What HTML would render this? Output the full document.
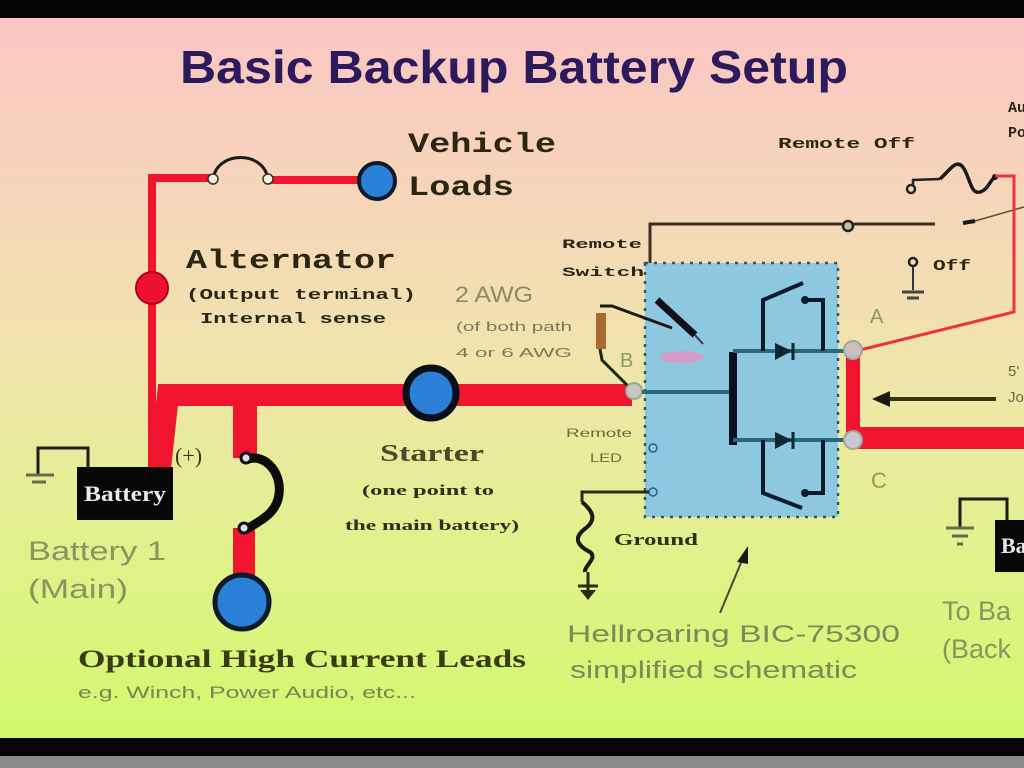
<!DOCTYPE html>
<html><head><meta charset="utf-8"><style>
html,body{margin:0;padding:0;width:1024px;height:768px;overflow:hidden;background:#000}
svg{display:block}
</style></head><body>
<svg width="1024" height="768" viewBox="0 0 1024 768" xmlns="http://www.w3.org/2000/svg">
<defs>
<linearGradient id="bg" x1="0" y1="0" x2="0" y2="1">
<stop offset="0" stop-color="#fbc6c4"/>
<stop offset="0.25" stop-color="#f6d6ba"/>
<stop offset="0.5" stop-color="#efe6aa"/>
<stop offset="0.72" stop-color="#e2f08e"/>
<stop offset="1" stop-color="#d2f96c"/>
</linearGradient>
</defs>
<rect x="0" y="18" width="1024" height="722" fill="url(#bg)"/>
<rect x="0" y="0" width="1024" height="18" fill="#050303"/>
<rect x="0" y="738" width="1024" height="18" fill="#060606"/>
<rect x="0" y="756" width="1024" height="12" fill="#8a8a8a"/>

<!-- Title -->
<text x="180" y="83" font-family="Liberation Sans, sans-serif" font-weight="bold" font-size="46" fill="#2c1a5c" textLength="668" lengthAdjust="spacingAndGlyphs">Basic Backup Battery Setup</text>

<!-- Thin red left wire -->
<polyline points="152,470 152,178 213,178" fill="none" stroke="#f0142e" stroke-width="8"/>
<line x1="268" y1="180" x2="362" y2="180" stroke="#f0142e" stroke-width="8"/>
<!-- fuse top-left -->
<path d="M213,180 C216,150 265,150 268,180" fill="none" stroke="#1a1a1a" stroke-width="3"/>
<circle cx="213" cy="179" r="5" fill="#f4f0e0" stroke="#333" stroke-width="1.5"/>
<circle cx="268" cy="179" r="5" fill="#f4f0e0" stroke="#333" stroke-width="1.5"/>
<!-- vehicle loads circle -->
<circle cx="377" cy="181" r="18" fill="#2a7fd6" stroke="#0e1a2a" stroke-width="4"/>
<!-- alternator red circle -->
<circle cx="152" cy="288" r="16" fill="#ee1030" stroke="#b00018" stroke-width="2"/>

<!-- Thick red main wire -->
<polyline points="160,468 168,395 632,395" fill="none" stroke="#f0142e" stroke-width="22" stroke-linejoin="miter"/>
<!-- branch down -->
<line x1="245" y1="395" x2="245" y2="458" stroke="#f0142e" stroke-width="24"/>
<line x1="244" y1="528" x2="244" y2="585" stroke="#f0142e" stroke-width="22"/>
<path d="M246,460 C262,452 282,470 279,494 C277,514 258,522 245,530" fill="none" stroke="#0c0c0c" stroke-width="9"/>
<circle cx="246" cy="458" r="5" fill="#dde" stroke="#111" stroke-width="3"/>
<circle cx="244" cy="528" r="5" fill="#dde" stroke="#111" stroke-width="3"/>
<circle cx="242" cy="602" r="27" fill="#2a7fd6" stroke="#0e1a2a" stroke-width="5"/>
<!-- starter -->
<circle cx="431" cy="393" r="25" fill="#2a7fd6" stroke="#0a0e18" stroke-width="7"/>

<!-- battery 1 -->
<polyline points="88,468 88,448 38,448 38,474" fill="none" stroke="#1e1e10" stroke-width="3"/>
<line x1="26" y1="475" x2="54" y2="475" stroke="#6a6a50" stroke-width="3"/>
<line x1="32" y1="482" x2="46" y2="482" stroke="#6a6a50" stroke-width="3"/>
<rect x="77" y="467" width="96" height="53" fill="#080808"/>
<text x="84" y="501" font-family="Liberation Serif, serif" font-weight="bold" font-size="22" fill="#e8e8f0" textLength="82" lengthAdjust="spacingAndGlyphs">Battery</text>
<text x="175" y="463" font-family="Liberation Serif, serif" font-size="22" fill="#3a3a20">(+)</text>
<text x="28" y="560" font-family="Liberation Sans, sans-serif" font-size="27" fill="#8a9460" textLength="138" lengthAdjust="spacingAndGlyphs">Battery 1</text>
<text x="28" y="598" font-family="Liberation Sans, sans-serif" font-size="27" fill="#8a9460" textLength="100" lengthAdjust="spacingAndGlyphs">(Main)</text>

<text x="78" y="667" font-family="Liberation Serif, serif" font-weight="bold" font-size="25" fill="#3a3a14" textLength="448" lengthAdjust="spacingAndGlyphs">Optional High Current Leads</text>
<text x="78" y="698" font-family="Liberation Sans, sans-serif" font-size="17" fill="#7a8455" textLength="338" lengthAdjust="spacingAndGlyphs">e.g. Winch, Power Audio, etc...</text>

<text x="380" y="461" font-family="Liberation Serif, serif" font-weight="bold" font-size="24" fill="#4a4a2a" textLength="104" lengthAdjust="spacingAndGlyphs">Starter</text>
<text x="362" y="495" font-family="Liberation Serif, serif" font-weight="bold" font-size="15" fill="#2e2e18" textLength="132" lengthAdjust="spacingAndGlyphs">(one point to</text>
<text x="345" y="530" font-family="Liberation Serif, serif" font-weight="bold" font-size="15" fill="#2e2e18" textLength="174" lengthAdjust="spacingAndGlyphs">the main battery)</text>

<text x="408" y="152" font-family="Liberation Mono, monospace" font-weight="bold" font-size="28" fill="#2b2614" textLength="148" lengthAdjust="spacingAndGlyphs">Vehicle</text>
<text x="408" y="195" font-family="Liberation Mono, monospace" font-weight="bold" font-size="28" fill="#2b2614" textLength="106" lengthAdjust="spacingAndGlyphs">Loads</text>
<text x="186" y="268" font-family="Liberation Mono, monospace" font-weight="bold" font-size="27" fill="#2b2614" textLength="210" lengthAdjust="spacingAndGlyphs">Alternator</text>
<text x="186" y="299" font-family="Liberation Mono, monospace" font-weight="bold" font-size="15" fill="#2b2614" textLength="230" lengthAdjust="spacingAndGlyphs">(Output terminal)</text>
<text x="200" y="323" font-family="Liberation Mono, monospace" font-weight="bold" font-size="15" fill="#2b2614" textLength="186" lengthAdjust="spacingAndGlyphs">Internal sense</text>

<text x="455" y="302" font-family="Liberation Sans, sans-serif" font-size="22" fill="#8a8a6a" textLength="78" lengthAdjust="spacingAndGlyphs">2 AWG</text>
<text x="456" y="331" font-family="Liberation Sans, sans-serif" font-size="13" fill="#7a7a5a" textLength="116" lengthAdjust="spacingAndGlyphs">(of both path</text>
<text x="456" y="357" font-family="Liberation Sans, sans-serif" font-size="13" fill="#7a7a5a" textLength="116" lengthAdjust="spacingAndGlyphs">4 or 6 AWG</text>

<text x="562" y="248" font-family="Liberation Mono, monospace" font-weight="bold" font-size="13" fill="#2b2614" textLength="80" lengthAdjust="spacingAndGlyphs">Remote</text>
<text x="562" y="276" font-family="Liberation Mono, monospace" font-weight="bold" font-size="13" fill="#2b2614" textLength="82" lengthAdjust="spacingAndGlyphs">Switch</text>
<text x="778" y="148" font-family="Liberation Mono, monospace" font-weight="bold" font-size="15" fill="#2b2614" textLength="137" lengthAdjust="spacingAndGlyphs">Remote Off</text>
<text x="1008" y="112" font-family="Liberation Mono, monospace" font-weight="bold" font-size="15" fill="#2b2614">Au</text>
<text x="1008" y="137" font-family="Liberation Mono, monospace" font-weight="bold" font-size="15" fill="#2b2614">Po</text>

<!-- remote switch wire -->
<polyline points="650,295 650,224 935,224" fill="none" stroke="#3a3020" stroke-width="3"/>
<circle cx="848" cy="226" r="5" fill="#c8c0a0" stroke="#222" stroke-width="2.5"/>
<line x1="963" y1="223" x2="975" y2="221" stroke="#1a1a1a" stroke-width="4"/>
<line x1="975" y1="221" x2="1024" y2="207" stroke="#5a5030" stroke-width="1.5"/>
<!-- fuse right -->
<circle cx="911" cy="189" r="4" fill="none" stroke="#222" stroke-width="2.5"/>
<polyline points="913,185 913,180 940,179" fill="none" stroke="#222" stroke-width="2.5"/>
<path d="M940,179 C950,170 955,160 962,166 C970,175 970,195 980,192 C988,190 990,180 995,177" fill="none" stroke="#1a1a1a" stroke-width="3.5"/>
<circle cx="995" cy="177" r="3" fill="#111"/>
<!-- Off -->
<circle cx="913" cy="262" r="4" fill="none" stroke="#222" stroke-width="2.5"/>
<line x1="913" y1="266" x2="913" y2="290" stroke="#333" stroke-width="2"/>
<line x1="902" y1="292" x2="924" y2="292" stroke="#444" stroke-width="3"/>
<line x1="907" y1="298" x2="919" y2="298" stroke="#444" stroke-width="3"/>
<text x="933" y="270" font-family="Liberation Mono, monospace" font-weight="bold" font-size="15" fill="#2b2614" textLength="38" lengthAdjust="spacingAndGlyphs">Off</text>

<!-- thin red right -->
<polyline points="995,176 1014,176 1014,312 860,350" fill="none" stroke="#ee3040" stroke-width="3"/>
<!-- thick red right -->
<line x1="853" y1="350" x2="853" y2="440" stroke="#f0142e" stroke-width="14"/>
<line x1="853" y1="438" x2="1024" y2="438" stroke="#f0142e" stroke-width="22"/>
<!-- left arrow -->
<line x1="885" y1="399" x2="996" y2="399" stroke="#3a3416" stroke-width="4"/>
<polygon points="872,399 890,391 890,407" fill="#1a1a10"/>
<text x="1008" y="376" font-family="Liberation Sans, sans-serif" font-size="15" fill="#6a6a40">5'</text>
<text x="1008" y="402" font-family="Liberation Sans, sans-serif" font-size="15" fill="#6a6a40">Jo</text>

<!-- Blue box -->
<rect x="645" y="263" width="193" height="254" fill="#8ec8e0" stroke="#2a5a60" stroke-width="2.5" stroke-dasharray="3,6"/>
<!-- resistor & LED -->
<polyline points="600,306 612,306 672,328" fill="none" stroke="#1a1a10" stroke-width="3"/>
<line x1="657" y1="300" x2="695" y2="335" stroke="#101018" stroke-width="7"/>
<line x1="695" y1="335" x2="703" y2="344" stroke="#3a3a50" stroke-width="2"/>
<rect x="596" y="313" width="10" height="36" fill="#a86a30"/>
<polyline points="600,349 602,360 628,386" fill="none" stroke="#1a2a10" stroke-width="3"/>
<ellipse cx="682" cy="357" rx="22" ry="6" fill="#e890c0" opacity="0.8"/>
<text x="620" y="367" font-family="Liberation Sans, sans-serif" font-size="20" fill="#8a9a60">B</text>
<circle cx="634" cy="391" r="8" fill="#c8c8c0" stroke="#98a898" stroke-width="2"/>
<!-- internal -->
<line x1="642" y1="392" x2="733" y2="392" stroke="#2a6a78" stroke-width="4"/>
<line x1="733" y1="352" x2="733" y2="445" stroke="#0a1020" stroke-width="8"/>
<line x1="733" y1="351" x2="846" y2="351" stroke="#2a6a78" stroke-width="4"/>
<line x1="733" y1="440" x2="846" y2="440" stroke="#2a6a78" stroke-width="4"/>
<polygon points="775,343 775,360 792,351" fill="#0a2a30"/>
<line x1="793" y1="343" x2="793" y2="360" stroke="#0a2a30" stroke-width="3"/>
<polygon points="775,432 775,449 792,440" fill="#0a2a30"/>
<line x1="793" y1="432" x2="793" y2="449" stroke="#0a2a30" stroke-width="3"/>
<polyline points="763,351 763,300 803,283" fill="none" stroke="#0c1a30" stroke-width="4"/>
<polyline points="805,300 823,300 823,351" fill="none" stroke="#0c1a30" stroke-width="4"/>
<circle cx="805" cy="300" r="4" fill="#0c1a30"/>
<polyline points="763,440 763,493 802,508" fill="none" stroke="#0c1a30" stroke-width="4"/>
<polyline points="805,493 823,493 823,440" fill="none" stroke="#0c1a30" stroke-width="4"/>
<circle cx="805" cy="493" r="4" fill="#0c1a30"/>
<!-- A / C terminals -->
<circle cx="853" cy="350" r="9" fill="#c8c0c0" stroke="#a0a8a0" stroke-width="2"/>
<circle cx="853" cy="440" r="9" fill="#c8c8d0" stroke="#a0a8a0" stroke-width="2"/>
<text x="870" y="323" font-family="Liberation Sans, sans-serif" font-size="20" fill="#8a9a60">A</text>
<text x="871" y="488" font-family="Liberation Sans, sans-serif" font-size="22" fill="#9a9a50">C</text>
<!-- LED/ground terminals -->
<circle cx="653" cy="448" r="4" fill="none" stroke="#2a5aa0" stroke-width="1.5"/>
<circle cx="653" cy="492" r="4" fill="none" stroke="#2a5aa0" stroke-width="1.5"/>
<text x="566" y="437" font-family="Liberation Sans, sans-serif" font-size="12" fill="#6a6a40" textLength="66" lengthAdjust="spacingAndGlyphs">Remote</text>
<text x="590" y="462" font-family="Liberation Sans, sans-serif" font-size="12" fill="#6a6a40" textLength="32" lengthAdjust="spacingAndGlyphs">LED</text>
<!-- ground squiggle -->
<polyline points="649,492 582,492 582,502" fill="none" stroke="#2a2a14" stroke-width="3"/>
<path d="M582,502 C594,512 596,520 586,528 C572,538 578,546 590,552 C598,558 584,566 585,572" fill="none" stroke="#1a1a10" stroke-width="4"/>
<line x1="588" y1="572" x2="588" y2="596" stroke="#2a2a14" stroke-width="3"/>
<line x1="578" y1="586" x2="598" y2="586" stroke="#2a2a14" stroke-width="3"/>
<polygon points="580,590 596,590 588,600" fill="#2a2a14"/>
<text x="614" y="545" font-family="Liberation Serif, serif" font-weight="bold" font-size="17" fill="#2e2e18" textLength="84" lengthAdjust="spacingAndGlyphs">Ground</text>
<!-- pointer -->
<line x1="720" y1="613" x2="743" y2="558" stroke="#4a4a30" stroke-width="2"/>
<polygon points="748,546 737,562 748,564" fill="#1a1a10"/>
<text x="567" y="642" font-family="Liberation Sans, sans-serif" font-size="24" fill="#7e8858" textLength="333" lengthAdjust="spacingAndGlyphs">Hellroaring BIC-75300</text>
<text x="570" y="678" font-family="Liberation Sans, sans-serif" font-size="24" fill="#7e8858" textLength="287" lengthAdjust="spacingAndGlyphs">simplified schematic</text>

<!-- right battery -->
<polyline points="1007,520 1007,499 960,499 960,527" fill="none" stroke="#1e1e10" stroke-width="3"/>
<line x1="946" y1="528" x2="974" y2="528" stroke="#6a6a50" stroke-width="3"/>
<line x1="952" y1="536" x2="968" y2="536" stroke="#6a6a50" stroke-width="3"/>
<line x1="957" y1="544" x2="963" y2="544" stroke="#6a6a50" stroke-width="3"/>
<rect x="995" y="520" width="29" height="52" fill="#080808"/>
<text x="1001" y="553" font-family="Liberation Serif, serif" font-weight="bold" font-size="22" fill="#e8e8f0">Ba</text>
<text x="942" y="620" font-family="Liberation Sans, sans-serif" font-size="27" fill="#8a9460">To Ba</text>
<text x="942" y="658" font-family="Liberation Sans, sans-serif" font-size="27" fill="#8a9460">(Back</text>
</svg>
</body></html>
